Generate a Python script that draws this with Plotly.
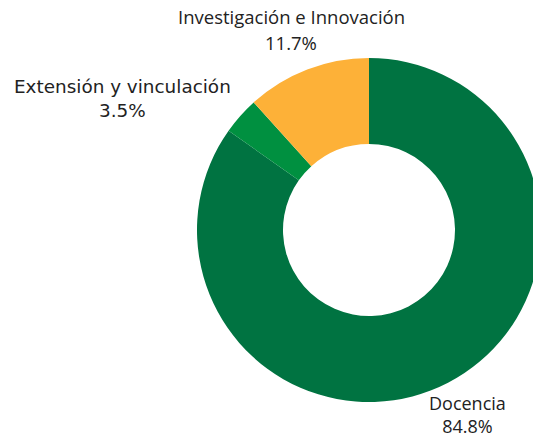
import plotly.graph_objects as go

labels = ["Docencia", "Extensión y vinculación", "Investigación e Innovación"]
values = [84.8, 3.5, 11.7]
pct_text = ["84.8%", "3.5%", "11.7%"]
colors = ["#007341", "#009040", "#FDB138"]

W, H = 550, 440
CX, CY, R = 369, 230, 172  # pie centre / radius in px (layout)

fig = go.Figure(go.Pie(
    labels=labels,
    values=values,
    hole=0.5,
    sort=False,
    direction="clockwise",
    rotation=0,
    marker=dict(colors=colors, line=dict(width=0)),
    textinfo="none",
    domain=dict(x=[(CX - R) / W, (CX + R) / W], y=[(H - CY - R) / H, (H - CY + R) / H]),
    showlegend=False,
    hoverinfo="skip",
))

anns = []
# Docencia: one two-line block resting on the bottom edge
anns.append(dict(
    x=467 / W, y=0, xref="paper", yref="paper",
    text=f"{labels[0]}<br>{pct_text[0]}", showarrow=False,
    xanchor="center", yanchor="bottom", align="center",
    font=dict(family="Open Sans", size=18, color="#222222"),
))
# other labels: (x centre px, name-line cap centre px, percent-line cap centre px, font family, size)
label_layout = [
    (122, 86.7, 111.0, "DejaVu Sans", 18.4),
    (291, 16.7, 42.2, "Open Sans", 18.5),
]
for name, pct, (lx, y1, y2, fam, fs) in zip(labels[1:], pct_text[1:], label_layout):
    for txt, yy in ((name, y1), (pct, y2)):
        anns.append(dict(
            x=lx / W, y=1 - yy / H, xref="paper", yref="paper",
            text=txt, showarrow=False, xanchor="center", yanchor="middle",
            font=dict(family=fam, size=fs, color="#222222"),
        ))

fig.update_layout(
    width=W, height=H,
    margin=dict(l=0, r=0, t=0, b=0),
    paper_bgcolor="white",
    plot_bgcolor="white",
    annotations=anns,
)
fig.write_html(
    "out.html",
    config={"displayModeBar": False},
    post_script="document.body.style.margin='0';document.body.style.overflow='hidden';document.documentElement.style.overflow='hidden';",
)
